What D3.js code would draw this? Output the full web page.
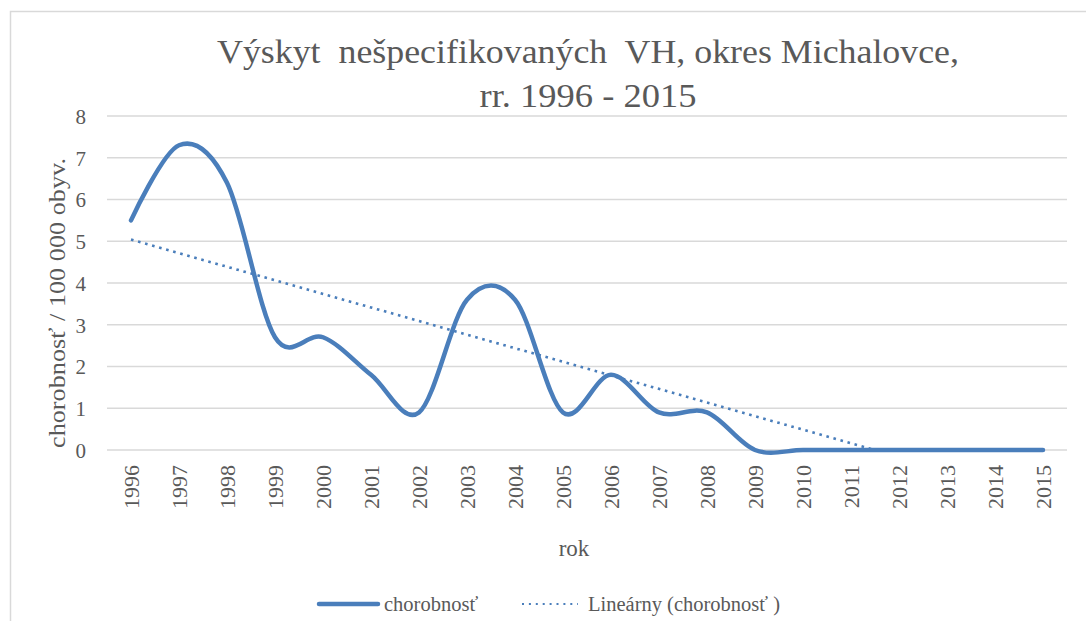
<!DOCTYPE html>
<html>
<head>
<meta charset="utf-8">
<script src="https://cdn.jsdelivr.net/npm/d3@7"></script>
<style>
  body { margin: 0; background: #fff; }
  svg text { font-family: "Liberation Serif", "Times New Roman", Times, serif; fill: #595959; }
</style>
</head>
<body>
<div id="chart"></div>
<script>
// data
const years = ["1996","1997","1998","1999","2000","2001","2002","2003","2004","2005",
               "2006","2007","2008","2009","2010","2011","2012","2013","2014","2015"];
const chorobnost = [5.5, 7.3, 6.4, 2.7, 2.7, 1.8, 0.9, 3.6, 3.6, 0.9,
                    1.8, 0.9, 0.9, 0, 0, 0, 0, 0, 0, 0];
const yTicks = [0, 1, 2, 3, 4, 5, 6, 7, 8];

const titleLines = ["Výskyt  nešpecifikovaných  VH, okres Michalovce,", "rr. 1996 - 2015"];
const yTitle = "chorobnosť / 100 000 obyv.";
const xTitle = "rok";
const legendLabels = ["chorobnosť", "Lineárny (chorobnosť )"];

const W = 1086, H = 621;
const plot = { left: 107, right: 1067, top: 116, bottom: 450 };
const blue = "#4a7ebb";

const svg = d3.select("#chart").append("svg")
  .attr("width", W).attr("height", H);

// outer frame
svg.append("rect")
  .attr("x", 10.5).attr("y", 11.5)
  .attr("width", W + 20).attr("height", H + 20)
  .attr("fill", "#fff").attr("stroke", "#d9d9d9").attr("stroke-width", 1.5);

const x = d3.scaleBand().domain(years).range([plot.left, plot.right]);
const y = d3.scaleLinear().domain([0, 8]).range([plot.bottom, plot.top]);
const cx = d => x(d) + x.bandwidth() / 2;

// gridlines
svg.append("g").selectAll("line").data(yTicks).join("line")
  .attr("x1", plot.left).attr("x2", plot.right)
  .attr("y1", d => y(d)).attr("y2", d => y(d))
  .attr("stroke", "#d9d9d9").attr("stroke-width", 1.3);

// y axis labels
const yAxis = d3.axisLeft(y).tickValues(yTicks).tickSize(0).tickPadding(0);
svg.append("g")
  .attr("transform", `translate(86,0)`)
  .call(yAxis)
  .call(g => g.select(".domain").remove())
  .call(g => g.attr("font-family", null))
  .selectAll("text")
  .style("font-size", "21px")
  .attr("dy", "0.35em");

// x axis labels (rotated)
const xAxis = d3.axisBottom(x).tickSize(0).tickPadding(0);
svg.append("g")
  .attr("transform", `translate(0,${plot.bottom})`)
  .call(xAxis)
  .call(g => g.select(".domain").remove())
  .call(g => g.attr("font-family", null))
  .selectAll("text")
  .style("font-size", "22px")
  .attr("text-anchor", "end")
  .attr("transform", "translate(0,15) rotate(-90)")
  .attr("x", 0).attr("y", 0)
  .attr("dy", "0.35em");

// title (stretched to the width it has in the picture)
const titleWidths = [742, 217];
svg.append("g").selectAll("text").data(titleLines).join("text")
  .attr("x", 588).attr("y", (d, i) => 63 + i * 44)
  .attr("text-anchor", "middle")
  .attr("textLength", (d, i) => titleWidths[i])
  .attr("lengthAdjust", "spacingAndGlyphs")
  .style("white-space", "pre")
  .style("font-size", "33px")
  .text(d => d);

// axis titles
svg.append("text")
  .attr("transform", "translate(65,303) rotate(-90)")
  .attr("text-anchor", "middle")
  .attr("textLength", 290)
  .attr("lengthAdjust", "spacingAndGlyphs")
  .style("font-size", "24px")
  .text(yTitle);

svg.append("text")
  .attr("x", 574).attr("y", 556)
  .attr("text-anchor", "middle")
  .style("font-size", "23px")
  .text(xTitle);

// linear trend (least squares on the category index)
const n = chorobnost.length;
const mx = d3.mean(d3.range(n)), my = d3.mean(chorobnost);
const slope = d3.sum(d3.range(n), i => (i - mx) * (chorobnost[i] - my)) /
              d3.sum(d3.range(n), i => (i - mx) * (i - mx));
const icpt = my - slope * mx;

svg.append("clipPath").attr("id", "clip")
  .append("rect")
  .attr("x", plot.left).attr("y", plot.top - 10)
  .attr("width", plot.right - plot.left).attr("height", plot.bottom - plot.top + 10);

svg.append("line")
  .attr("clip-path", "url(#clip)")
  .attr("x1", cx(years[0])).attr("y1", y(icpt))
  .attr("x2", cx(years[n - 1])).attr("y2", y(icpt + slope * (n - 1)))
  .attr("stroke", blue).attr("stroke-width", 2.6)
  .attr("stroke-dasharray", "2.6 4.7");

// smoothed series line
const line = d3.line()
  .x((d, i) => cx(years[i]))
  .y(d => y(d))
  .curve(d3.curveCardinal.tension(0));

svg.append("path")
  .datum(chorobnost)
  .attr("d", line)
  .attr("fill", "none")
  .attr("stroke", blue).attr("stroke-width", 4.5)
  .attr("stroke-linecap", "round").attr("stroke-linejoin", "round");

// legend
const lg = svg.append("g");
lg.append("line")
  .attr("x1", 319).attr("x2", 378).attr("y1", 604).attr("y2", 604)
  .attr("stroke", blue).attr("stroke-width", 4.5).attr("stroke-linecap", "round");
lg.append("text").attr("x", 384).attr("y", 611)
  .style("font-size", "20.5px").text(legendLabels[0]);
lg.append("line")
  .attr("x1", 522).attr("x2", 578).attr("y1", 604).attr("y2", 604)
  .attr("stroke", blue).attr("stroke-width", 2)
  .attr("stroke-dasharray", "2 4.9");
lg.append("text").attr("x", 588).attr("y", 611)
  .style("font-size", "20.5px").text(legendLabels[1]);
</script>
</body>
</html>
